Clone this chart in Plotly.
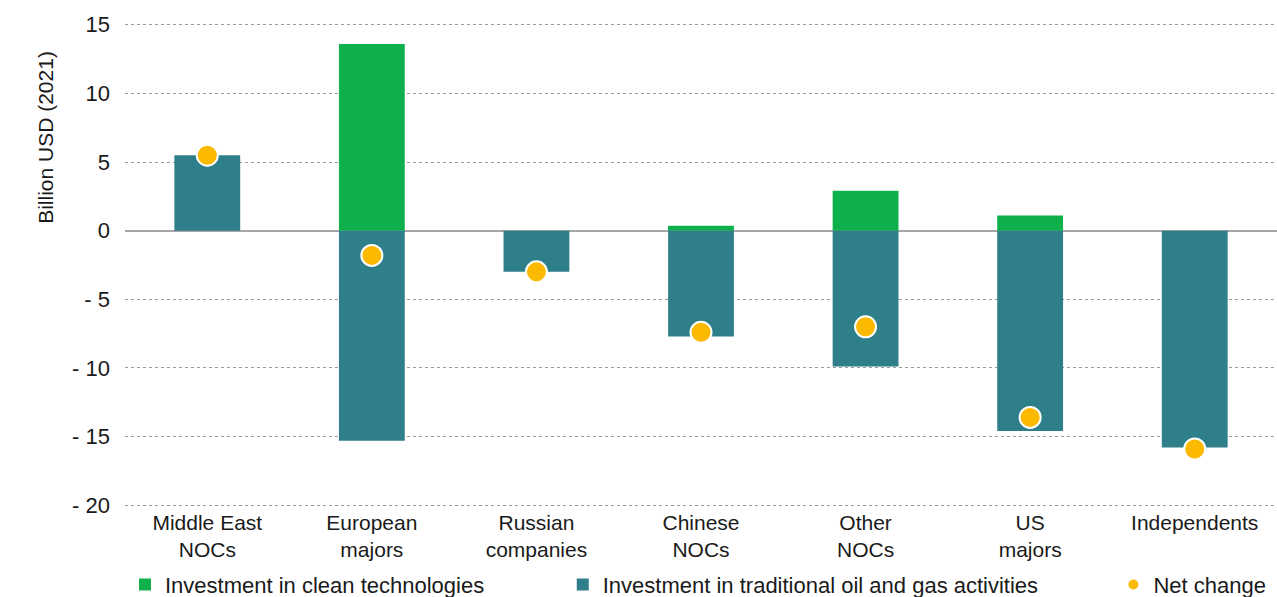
import plotly.graph_objects as go

categories = [
    "Middle East<br>NOCs",
    "European<br>majors",
    "Russian<br>companies",
    "Chinese<br>NOCs",
    "Other<br>NOCs",
    "US<br>majors",
    "Independents",
]
clean_tech = [0.0, 13.6, 0.0, 0.35, 2.9, 1.1, 0.0]
traditional = [5.5, -15.3, -3.0, -7.7, -9.9, -14.6, -15.8]
net_change = [5.5, -1.8, -3.0, -7.4, -7.0, -13.6, -15.9]

tick_vals = [15, 10, 5, 0, -5, -10, -15, -20]
tick_text = ["15", "10", "5", "0", "- 5", "- 10", "- 15", "- 20"]

GREEN = "#0DB04B"
TEAL = "#2F7F8B"
ORANGE = "#FBB900"
FONT = "Liberation Sans, Arial, sans-serif"

fig = go.Figure()
fig.add_trace(go.Bar(
    x=categories, y=clean_tech, name="Investment in clean technologies",
    marker=dict(color=GREEN, line=dict(width=0)), width=0.4, legend="legend",
))
fig.add_trace(go.Bar(
    x=categories, y=traditional, name="Investment in traditional oil and gas activities",
    marker=dict(color=TEAL, line=dict(width=0)), width=0.4, legend="legend2",
))
fig.add_trace(go.Scatter(
    x=categories, y=net_change, name="Net change", mode="markers",
    marker=dict(color=ORANGE, size=21, line=dict(color="white", width=2)),
    legend="legend3",
))

legend_common = dict(
    orientation="h", xanchor="left", y=-0.158, yanchor="middle",
    font=dict(size=22), itemsizing="constant", bgcolor="rgba(0,0,0,0)",
)

fig.update_layout(
    width=1277, height=597,
    margin=dict(l=125, r=0, t=22, b=89, autoexpand=False),
    paper_bgcolor="white", plot_bgcolor="white",
    barmode="relative", bargap=0.6,
    font=dict(family=FONT, size=21, color="#1a1a1a"),
    showlegend=True,
    legend=dict(x=0.0, **legend_common),
    legend2=dict(x=0.38, **legend_common),
    legend3=dict(x=0.858, **legend_common),
    xaxis=dict(
        showgrid=False, showline=False, ticks="", automargin=False,
        tickfont=dict(size=21), ticklabelstandoff=0,
    ),
    yaxis=dict(
        range=[-20.2, 15.2], tickvals=tick_vals, ticktext=tick_text,
        showgrid=True, gridcolor="#9a9a9a", griddash="dot", gridwidth=1,
        zeroline=True, zerolinecolor="#a6a6a6", zerolinewidth=2, automargin=False,
        showline=False, ticks="", tickfont=dict(size=22), ticklabelstandoff=14,
    ),
    annotations=[dict(
        text="Billion USD (2021)", textangle=-90, xref="paper", yref="y",
        x=-0.069, y=6.8, showarrow=False, font=dict(size=21),
        xanchor="center", yanchor="middle",
    )],
)

fig.write_html("out.html")
